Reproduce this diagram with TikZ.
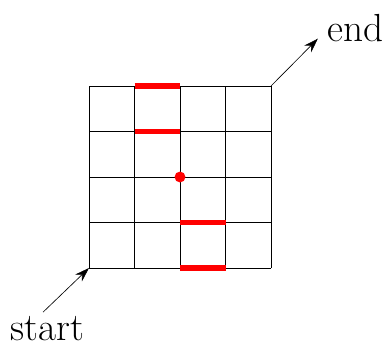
\documentclass[tikz,border=0pt]{standalone}
\usepackage{amsmath,amssymb}
\usepackage{tikz}
\usetikzlibrary{arrows.meta}

\begin{document}
\begin{tikzpicture}[>={Stealth[length=9pt,width=6pt]},font=\fontsize{24.5}{28}\selectfont]
  \useasboundingbox (-1.956,-1.670) rectangle (6.549,5.890);
  \draw[thin] (0,0) grid (4,4);
  \draw[red,line width=3.3pt] (1,4) -- (2,4);
  \draw[red,line width=3.3pt] (1,3) -- (2,3);
  \draw[red,line width=3.3pt] (2,1) -- (3,1);
  \draw[red,line width=3.3pt] (2,0) -- (3,0);
  \fill[red] (2,2) circle (0.12);
  \coordinate (sw) at (0,0);
  \coordinate (ne) at (4,4);
  \coordinate (s0) at (-1.01,-0.97);
  \coordinate (e1) at (5.03,5.04);
  \node[inner sep=0pt] (start) at (-0.92,-1.33) {start};
  \node[inner sep=0pt] (end) at (5.85,5.27) {end};
  \draw[->] (s0) -- (sw);
  \draw[->] (ne) -- (e1);
\end{tikzpicture}
\end{document}
